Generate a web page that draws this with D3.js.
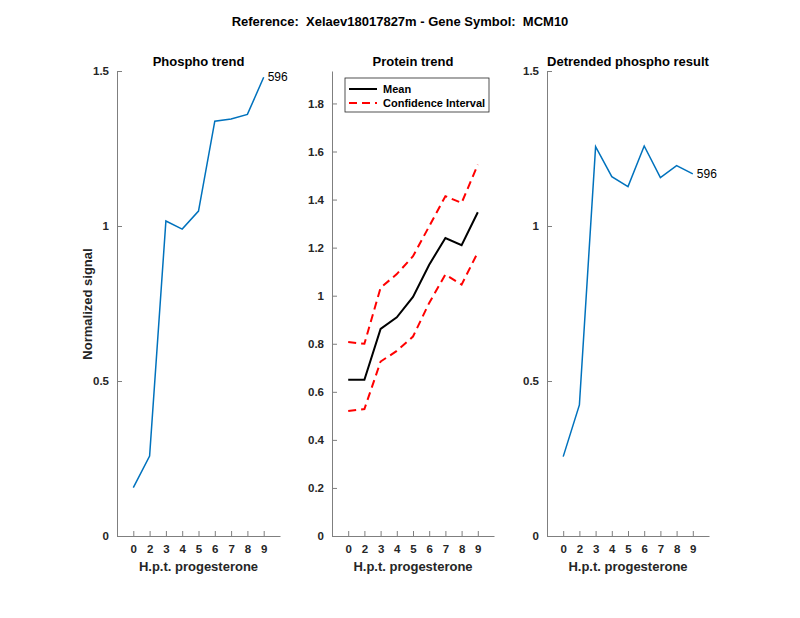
<!DOCTYPE html>
<html lang="en">
<head>
<meta charset="UTF-8">
<title>MCM10 trends</title>
<script src="https://d3js.org/d3.v7.min.js"></script>
<style>
    body { margin: 0; background: #fff; }
    svg { display: block; font-family: "Liberation Sans", Arial, sans-serif; }
    .tick text { font-size: 11.5px; font-weight: bold; fill: #262626; }
    .domain, .tick line { stroke: #7f7f7f; }
</style>
</head>
<body>
<svg id="chart" width="800" height="618"></svg>
<script>
    // x positions 1..9 carry these labels
    const hptLabels = ["0", "2", "3", "4", "5", "6", "7", "8", "9"];
    const phospho = [0.156, 0.258, 1.016, 0.990, 1.048, 1.338, 1.345, 1.360, 1.480];
    const proteinMean = [0.65, 0.65, 0.862, 0.91, 0.995, 1.129, 1.24, 1.21, 1.347];
    const proteinUpper = [0.807, 0.80, 1.033, 1.09, 1.164, 1.289, 1.414, 1.386, 1.545];
    const proteinLower = [0.52, 0.528, 0.726, 0.77, 0.83, 0.97, 1.088, 1.046, 1.18];
    const detrended = [0.256, 0.423, 1.256, 1.159, 1.127, 1.258, 1.156, 1.195, 1.168];
    const peptideId = "596";

    const svg = d3.select("#chart");
    const plotTop = 71, plotBottom = 536;

    svg.append("text")
        .attr("x", 400).attr("y", 26)
        .attr("text-anchor", "middle")
        .style("white-space", "pre")
        .attr("font-size", 13).attr("font-weight", "bold").attr("fill", "#000")
        .text("Reference:  Xelaev18017827m - Gene Symbol:  MCM10");

    function panel(left, right, yMax, yTicks, title) {
        const x = d3.scaleLinear().domain([0, 10]).range([left, right]);
        const y = d3.scaleLinear().domain([0, yMax]).range([plotBottom, plotTop]);
        const g = svg.append("g");

        g.append("g")
            .attr("transform", `translate(0,${plotBottom})`)
            .call(d3.axisBottom(x).tickValues(d3.range(1, 10))
                .tickFormat((d, i) => hptLabels[i]).tickSizeInner(-5).tickSizeOuter(0).tickPadding(9));
        g.append("g")
            .attr("transform", `translate(${left},0)`)
            .call(d3.axisLeft(y).tickValues(yTicks)
                .tickFormat(d3.format("~g")).tickSizeInner(-5).tickSizeOuter(0).tickPadding(8));

        g.append("text")
            .attr("x", (left + right) / 2).attr("y", 66)
            .attr("text-anchor", "middle")
            .attr("font-size", 13).attr("font-weight", "bold").attr("fill", "#000")
            .text(title);
        g.append("text")
            .attr("x", (left + right) / 2).attr("y", 571)
            .attr("text-anchor", "middle")
            .attr("font-size", 13).attr("font-weight", "bold").attr("fill", "#262626")
            .text("H.p.t. progesterone");
        return { g, x, y };
    }

    function drawLine(p, values, color, width, dash) {
        const line = d3.line().x((d, i) => p.x(i + 1)).y(d => p.y(d));
        const path = p.g.append("path")
            .datum(values)
            .attr("d", line)
            .attr("fill", "none")
            .attr("stroke", color)
            .attr("stroke-width", width);
        if (dash) path.attr("stroke-dasharray", dash);
    }

    function endLabel(p, values) {
        p.g.append("text")
            .attr("x", p.x(9) + 4).attr("y", p.y(values[8]) + 4)
            .attr("font-size", 12).attr("fill", "#000")
            .text(peptideId);
    }

    // phospho trend
    const p1 = panel(117, 280, 1.5, [0, 0.5, 1, 1.5], "Phospho trend");
    drawLine(p1, phospho, "#0072bd", 1.5);
    endLabel(p1, phospho);
    svg.append("text")
        .attr("transform", "translate(92,304) rotate(-90)")
        .attr("text-anchor", "middle")
        .attr("font-size", 13).attr("font-weight", "bold").attr("fill", "#262626")
        .text("Normalized signal");

    // protein trend
    const p2 = panel(332, 494, 1.935, d3.range(0, 1.81, 0.2).map(d => +d.toFixed(1)), "Protein trend");
    drawLine(p2, proteinUpper, "#ff0000", 2, "8,5");
    drawLine(p2, proteinLower, "#ff0000", 2, "8,5");
    drawLine(p2, proteinMean, "#000", 2);

    const legend = p2.g.append("g").attr("transform", "translate(345,78)");
    legend.append("rect")
        .attr("width", 144).attr("height", 34)
        .attr("fill", "#fff").attr("stroke", "#262626").attr("stroke-width", 0.8);
    const items = [
        { name: "Mean", color: "#000", dash: null },
        { name: "Confidence Interval", color: "#ff0000", dash: "8,5" }
    ];
    items.forEach((it, i) => {
        const yy = 11 + i * 14;
        const ln = legend.append("line")
            .attr("x1", 4).attr("x2", 32).attr("y1", yy).attr("y2", yy)
            .attr("stroke", it.color).attr("stroke-width", 2);
        if (it.dash) ln.attr("stroke-dasharray", it.dash);
        legend.append("text")
            .attr("x", 38).attr("y", yy + 4)
            .attr("font-size", 11).attr("font-weight", "bold").attr("fill", "#000")
            .text(it.name);
    });

    // detrended
    const p3 = panel(547, 709, 1.5, [0, 0.5, 1, 1.5], "Detrended phospho result");
    drawLine(p3, detrended, "#0072bd", 1.5);
    endLabel(p3, detrended);
</script>
</body>
</html>
